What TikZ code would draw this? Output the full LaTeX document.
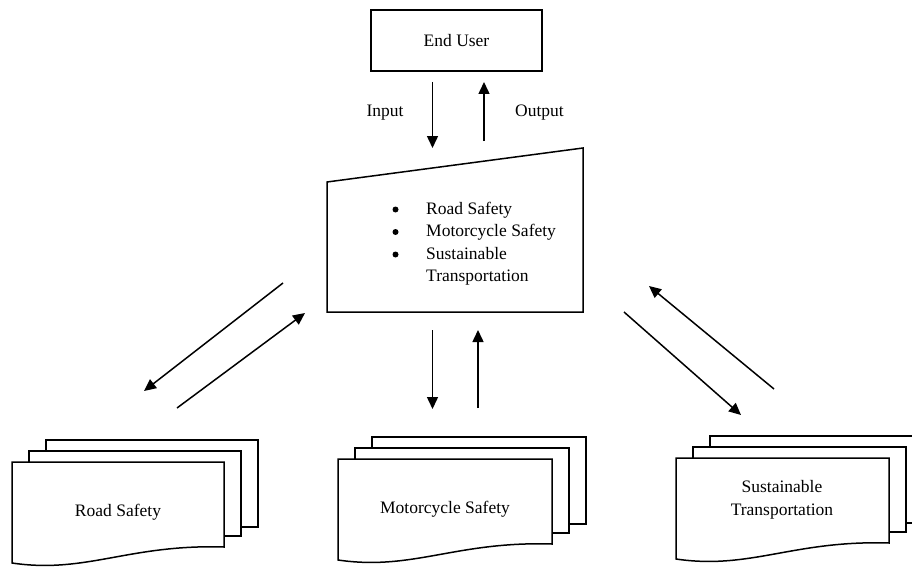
\documentclass[tikz,border=0pt]{standalone}
\usepackage{fontspec}
\setmainfont{Liberation Serif}
\usetikzlibrary{arrows.meta}
\tikzset{
  txt/.style={font=\fontsize{17.5}{22.5}\selectfont, inner sep=0pt, align=center},
  boxline/.style={line width=1.5pt, draw=black},
  arr/.style={line width=1.5pt, -{Triangle[length=12pt,width=11pt]}},
  bulletdot/.style={fill=black},
}
\newcommand{\docstack}[3]{%
  % #1 x, #2 y (top-left of front sheet), #3 width
  \draw[boxline, fill=white] (#1+34,#2-22) rectangle (#1+#3+34,#2+65);
  \draw[boxline, fill=white] (#1+17,#2-11) rectangle (#1+#3+17,#2+74);
  \draw[boxline, fill=white] (#1,#2) -- (#1+#3,#2) -- (#1+#3,#2+85)
     .. controls (#1+0.55*#3,#2+82) and (#1+0.35*#3,#2+112) .. (#1,#2+101) -- cycle;
}
\begin{document}
\begin{tikzpicture}[x=1pt,y=-1pt]
\useasboundingbox (0,0) rectangle (912,567);
\clip (0,0) rectangle (912,567);

% End User
\node[txt, boxline, minimum width=171pt, minimum height=61pt] (user) at (456.5,40.5) {End User};

% Manual input shape
\draw[boxline] (327,182) -- (583,148) -- (583,312) -- (327,312) -- cycle;
\node[txt, anchor=west, align=left] (topics) at (426,243.5) {%
  Road Safety\\
  Motorcycle Safety\\
  Sustainable\\
  Transportation};
\fill[bulletdot] (395.5,209.5) circle (3pt);
\fill[bulletdot] (395.5,232) circle (3pt);
\fill[bulletdot] (395.5,254.5) circle (3pt);

% Document stacks
\docstack{12}{462}{212}
\node[txt] (road) at (118,512) {Road Safety};
\docstack{338}{459}{214}
\node[txt] (moto) at (445,509) {Motorcycle Safety};
\docstack{676}{458}{213}
\node[txt] (sust) at (782,500) {Sustainable\\Transportation};

% Labels
\node[txt] (inlab) at (385,113) {Input};
\node[txt] (outlab) at (539.5,113) {Output};

% Arrow end coordinates
\coordinate (a1s) at (432.5,82);  \coordinate (a1e) at (432.5,148);
\coordinate (a2s) at (484,141);   \coordinate (a2e) at (484,82);
\coordinate (b1s) at (283,283);   \coordinate (b1e) at (144,391);
\coordinate (b2s) at (177,408);   \coordinate (b2e) at (305,313);
\coordinate (c1s) at (432.5,330); \coordinate (c1e) at (432.5,409);
\coordinate (c2s) at (478,408);   \coordinate (c2e) at (478,330);
\coordinate (d1s) at (774,389);   \coordinate (d1e) at (649,286);
\coordinate (d2s) at (624,312);   \coordinate (d2e) at (741,415);

\draw[arr] (a1s) -- (a1e);
\draw[arr] (a2s) -- (a2e);
\draw[arr] (b1s) -- (b1e);
\draw[arr] (b2s) -- (b2e);
\draw[arr] (c1s) -- (c1e);
\draw[arr] (c2s) -- (c2e);
\draw[arr] (d1s) -- (d1e);
\draw[arr] (d2s) -- (d2e);
\end{tikzpicture}
\end{document}
